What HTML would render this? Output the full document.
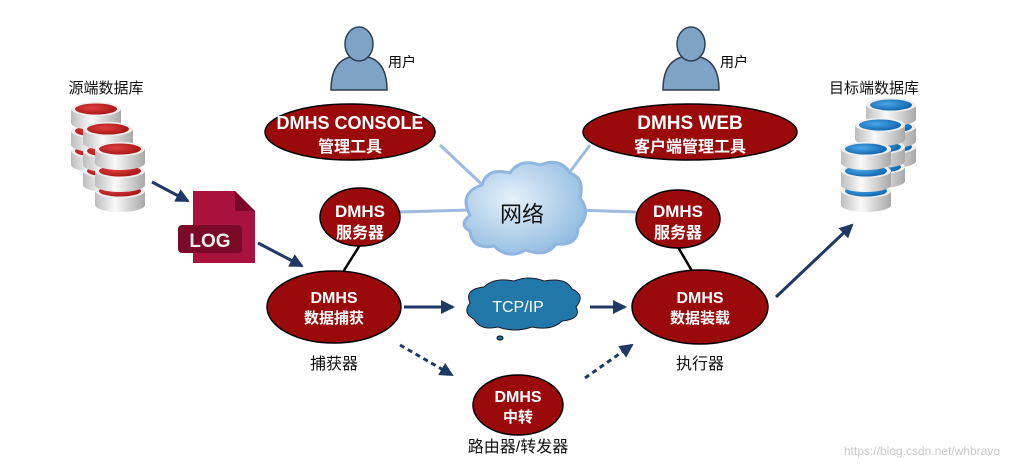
<!DOCTYPE html>
<html><head><meta charset="utf-8"><style>
body{margin:0;background:#fff;}
svg{display:block;font-family:"Liberation Sans","Noto Sans CJK SC",sans-serif;}
</style></head><body>
<svg width="1012" height="465" viewBox="0 0 1012 465" xmlns="http://www.w3.org/2000/svg">
<defs>
<linearGradient id="gr" x1="0" x2="1"><stop offset="0" stop-color="#bdbdbd"/><stop offset=".4" stop-color="#fafafa"/><stop offset="1" stop-color="#a8a8a8"/></linearGradient>
<radialGradient id="rd" cx=".4" cy=".4" r=".7"><stop offset="0" stop-color="#e04040"/><stop offset="1" stop-color="#a01010"/></radialGradient>
<radialGradient id="bl" cx=".4" cy=".4" r=".7"><stop offset="0" stop-color="#4aa8e8"/><stop offset="1" stop-color="#0a5fa8"/></radialGradient>
<radialGradient id="cl" cx=".4" cy=".4" r=".8"><stop offset="0" stop-color="#e6f1fa"/><stop offset="1" stop-color="#7fb0db"/></radialGradient>
<g id="discR"><path d="M0 7 v14 a25 7 0 0 0 50 0 v-14 z" fill="url(#gr)"/><ellipse cx="25" cy="7" rx="25" ry="7" fill="#eee"/><ellipse cx="25" cy="7" rx="21" ry="5.5" fill="url(#rd)"/></g>
<g id="discB"><path d="M0 7 v14 a25 7 0 0 0 50 0 v-14 z" fill="url(#gr)"/><ellipse cx="25" cy="7" rx="25" ry="7" fill="#eee"/><ellipse cx="25" cy="7" rx="21" ry="5.5" fill="url(#bl)"/></g>
<marker id="ah2" markerWidth="14" markerHeight="14" refX="12" refY="7" orient="auto" markerUnits="userSpaceOnUse"><path d="M0 0 L14 7 L0 14 z" fill="#1f3864"/></marker>
</defs>

<g stroke="#9dbbe0" stroke-width="3" fill="none">
<line x1="440" y1="145" x2="490" y2="192"/>
<line x1="590" y1="145" x2="560" y2="185"/>
<line x1="400" y1="212" x2="470" y2="210"/>
<line x1="575" y1="210" x2="636" y2="212"/>
</g>
<g stroke="#000" stroke-width="2.5">
<line x1="360" y1="245" x2="343" y2="272"/>
<line x1="678" y1="247" x2="692" y2="271"/>
</g>

<g fill="#7fa3c6" stroke="#2f3e52" stroke-width="1.5">
<path d="M331 90 q0 -34 28 -34 q28 0 28 34 z"/>
<ellipse cx="359" cy="44" rx="14" ry="17"/>
<path d="M663 90 q0 -34 28 -34 q28 0 28 34 z"/>
<ellipse cx="691" cy="44" rx="14" ry="17"/>
</g>
<text x="388" y="67" font-size="14">用户</text>
<text x="720" y="67" font-size="14">用户</text>

<g fill="#9b0a0a" stroke="#000" stroke-width="1.5">
<ellipse cx="350" cy="132" rx="85" ry="28"/>
<ellipse cx="690" cy="132" rx="107" ry="28"/>
<ellipse cx="360" cy="217" rx="40" ry="29"/>
<ellipse cx="678" cy="219" rx="42" ry="29"/>
<ellipse cx="334" cy="307" rx="67" ry="36"/>
<ellipse cx="700" cy="307" rx="68" ry="37"/>
<ellipse cx="518" cy="405" rx="45" ry="30"/>
</g>
<g fill="#fff" font-weight="bold" text-anchor="middle">
<text x="350" y="129" font-size="18">DMHS CONSOLE</text>
<text x="350" y="152" font-size="16">管理工具</text>
<text x="690" y="129" font-size="19">DMHS WEB</text>
<text x="690" y="152" font-size="16">客户端管理工具</text>
<text x="360" y="217" font-size="17">DMHS</text>
<text x="360" y="238" font-size="16">服务器</text>
<text x="678" y="217" font-size="17">DMHS</text>
<text x="678" y="238" font-size="16">服务器</text>
<text x="334" y="303" font-size="16">DMHS</text>
<text x="334" y="323" font-size="15">数据捕获</text>
<text x="700" y="303" font-size="16">DMHS</text>
<text x="700" y="323" font-size="15">数据装载</text>
<text x="518" y="402" font-size="16">DMHS</text>
<text x="518" y="422" font-size="15">中转</text>
</g>
<g font-size="16" text-anchor="middle" fill="#111">
<text x="334" y="369">捕获器</text>
<text x="700" y="369">执行器</text>
<text x="518" y="452">路由器/转发器</text>
<text x="106" y="93" font-size="15">源端数据库</text>
<text x="874" y="93" font-size="15">目标端数据库</text>
</g>

<g fill="url(#cl)" stroke="#8fb5e0" stroke-width="3">
<path d="M470 215 q-12 -22 12 -30 q5 -18 28 -12 q10 -15 30 -8 q20 -8 30 8 q15 5 10 25 q12 15 -2 30 q0 18 -22 16 q-10 14 -30 6 q-18 10 -32 -4 q-22 4 -24 -15 q-12 -6 0 -16 z"/>
</g>
<text x="522" y="222" font-size="22" text-anchor="middle" fill="#111">网络</text>

<path d="M470 303 q-6 -14 14 -16 q10 -10 30 -6 q15 -6 30 0 q22 -4 28 8 q14 6 4 18 q6 12 -14 14 q-10 10 -30 6 q-18 6 -34 0 q-18 4 -24 -8 q-12 -6 -4 -16 z" fill="#2177a8" stroke="#1a1a2a" stroke-width="1"/>
<ellipse cx="500" cy="338" rx="3" ry="2" fill="#2177a8" stroke="#000"/>
<text x="518" y="312" font-size="16" fill="#fff" text-anchor="middle">TCP/IP</text>

<g stroke="#1f3864" stroke-width="3" fill="none">
<line x1="404" y1="307" x2="453" y2="307" marker-end="url(#ah2)"/>
<line x1="590" y1="307" x2="625" y2="307" marker-end="url(#ah2)"/>
<line x1="152" y1="182" x2="188" y2="201" marker-end="url(#ah2)"/>
<line x1="258" y1="243" x2="302" y2="266" marker-end="url(#ah2)"/>
<line x1="776" y1="297" x2="852" y2="225" marker-end="url(#ah2)"/>
<line x1="400" y1="345" x2="452" y2="375" stroke-dasharray="5 4" marker-end="url(#ah2)"/>
<line x1="585" y1="378" x2="632" y2="345" stroke-dasharray="5 4" marker-end="url(#ah2)"/>
</g>

<path d="M193 191 h42 l20 20 v52 h-62 z" fill="#a8123c"/>
<path d="M235 191 v20 h20 z" fill="#7a0a28"/>
<rect x="178" y="225" width="64" height="28" rx="4" fill="#7a0a28"/>
<text x="210" y="247" font-size="19" font-weight="bold" fill="#eee" text-anchor="middle">LOG</text>

<g>
<use href="#discR" x="71" y="144"/><use href="#discR" x="71" y="124"/><use href="#discR" x="71" y="102"/>
<use href="#discR" x="83" y="164"/><use href="#discR" x="83" y="144"/><use href="#discR" x="83" y="122"/>
<use href="#discR" x="95" y="184"/><use href="#discR" x="95" y="164"/><use href="#discR" x="95" y="142"/>
</g>
<g>
<use href="#discB" x="866" y="140"/><use href="#discB" x="866" y="120"/><use href="#discB" x="866" y="98"/>
<use href="#discB" x="855" y="160"/><use href="#discB" x="855" y="140"/><use href="#discB" x="855" y="118"/>
<use href="#discB" x="841" y="184"/><use href="#discB" x="841" y="164"/><use href="#discB" x="841" y="142"/>
</g>

<text x="1000" y="455" font-size="12" fill="#c8c8c8" text-anchor="end">https://blog.csdn.net/whbravo</text>
</svg>
</body></html>
